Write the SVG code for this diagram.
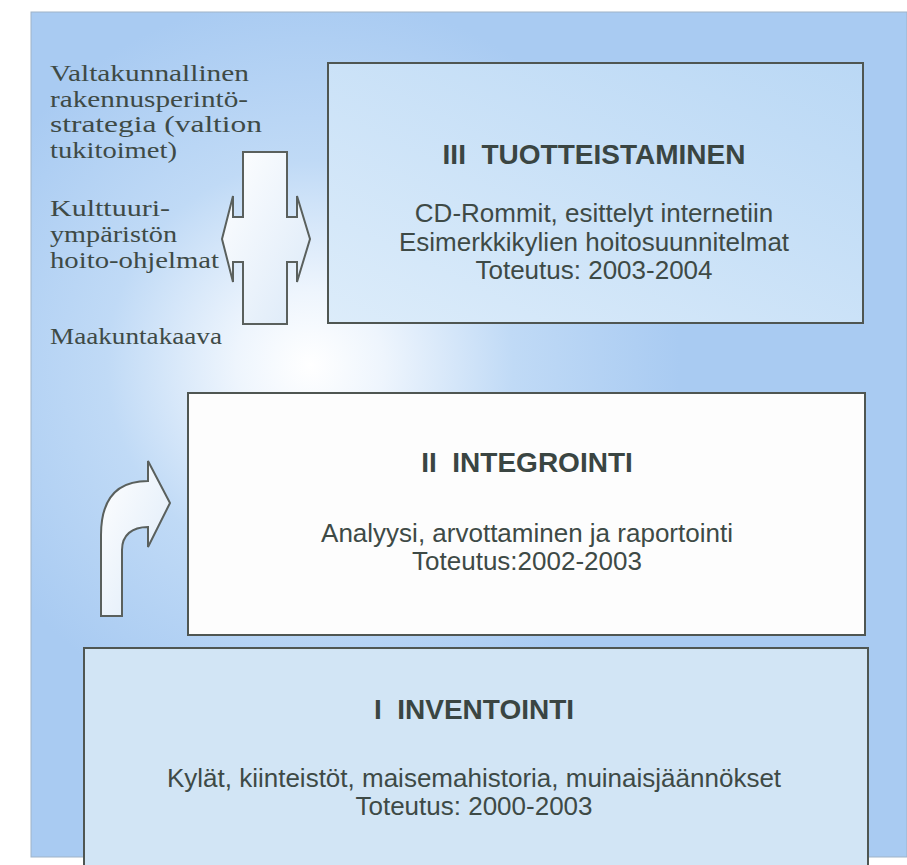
<svg xmlns="http://www.w3.org/2000/svg" width="907" height="865" viewBox="0 0 907 865">
<style>
.box{stroke:#4f5652;stroke-width:2}
.arrow{stroke:#5a605d;stroke-width:2;stroke-linejoin:miter}
.side{font-family:"Liberation Serif","Times New Roman",serif;font-size:23px;fill:#3e4a46}
.title{font-family:"Liberation Sans",Arial,sans-serif;font-size:28px;font-weight:bold;fill:#3a4542;text-anchor:middle}
.body{font-family:"Liberation Sans",Arial,sans-serif;font-size:26px;fill:#3e4a46;text-anchor:middle}
</style>
<defs>
<radialGradient id="bg" gradientUnits="userSpaceOnUse" cx="310" cy="365" r="370">
<stop offset="0" stop-color="#ffffff"/>
<stop offset="0.2" stop-color="#eef5fd"/>
<stop offset="0.55" stop-color="#c0daf6"/>
<stop offset="1" stop-color="#a9cbf2"/>
</radialGradient>
<linearGradient id="g3" x1="0" y1="1" x2="1" y2="0">
<stop offset="0" stop-color="#dcecfa"/>
<stop offset="1" stop-color="#bad8f5"/>
</linearGradient>
<linearGradient id="garrow" x1="0" y1="0" x2="1" y2="1">
<stop offset="0" stop-color="#ffffff"/>
<stop offset="1" stop-color="#dbe9f8"/>
</linearGradient>
</defs>
<rect x="0" y="0" width="907" height="865" fill="#ffffff"/>
<rect id="background" x="31" y="12" width="876" height="845" fill="url(#bg)" stroke="#9fb3c8" stroke-width="1"/>

<g id="side-texts">
<text class="side" x="50" y="81" textLength="199" lengthAdjust="spacingAndGlyphs">Valtakunnallinen</text>
<text class="side" x="50" y="107" textLength="198" lengthAdjust="spacingAndGlyphs">rakennusperintö-</text>
<text class="side" x="50" y="132" textLength="212" lengthAdjust="spacingAndGlyphs">strategia (valtion</text>
<text class="side" x="50" y="158" textLength="127" lengthAdjust="spacingAndGlyphs">tukitoimet)</text>
<text class="side" x="50" y="216" textLength="120" lengthAdjust="spacingAndGlyphs">Kulttuuri-</text>
<text class="side" x="50" y="242" textLength="127" lengthAdjust="spacingAndGlyphs">ympäristön</text>
<text class="side" x="50" y="268" textLength="169" lengthAdjust="spacingAndGlyphs">hoito-ohjelmat</text>
<text class="side" x="50" y="344" textLength="172" lengthAdjust="spacingAndGlyphs">Maakuntakaava</text>
</g>

<g id="node-III">
<rect class="box" x="328" y="63" width="535" height="260" fill="url(#g3)"/>
<text class="title" x="594" y="164">III&#160;&#160;TUOTTEISTAMINEN</text>
<text class="body" x="594" y="222">CD-Rommit, esittelyt internetiin</text>
<text class="body" x="594" y="251">Esimerkkikylien hoitosuunnitelmat</text>
<text class="body" x="594" y="279">Toteutus: 2003-2004</text>
</g>

<g id="node-II">
<rect class="box" x="188" y="393" width="677" height="242" fill="#fdfdfd"/>
<text class="title" x="527" y="472">II&#160;&#160;INTEGROINTI</text>
<text class="body" x="527" y="542">Analyysi, arvottaminen ja raportointi</text>
<text class="body" x="527" y="570">Toteutus:2002-2003</text>
</g>

<g id="node-I">
<rect class="box" x="84" y="648" width="784" height="230" fill="#d2e5f5"/>
<text class="title" x="474" y="719">I&#160;&#160;INVENTOINTI</text>
<text class="body" x="474" y="787">Kylät, kiinteistöt, maisemahistoria, muinaisjäännökset</text>
<text class="body" x="474" y="815">Toteutus: 2000-2003</text>
</g>

<g id="connectors">
<path id="double-arrow" class="arrow" fill="url(#garrow)" d="M243,152 L287,152 L287,217 L297,217 L297,196 L310,239 L297,282 L297,262 L287,262 L287,324 L243,324 L243,262 L233,262 L233,282 L222,239 L233,196 L233,217 L243,217 Z"/>
<path id="curved-arrow" class="arrow" fill="url(#garrow)" d="M101,616 L101,535 C101,498 118,481 148,481 L148,461 L170,503 L148,547 L148,527 C132,527 122,535 122,550 L122,616 Z"/>
</g>
</svg>
